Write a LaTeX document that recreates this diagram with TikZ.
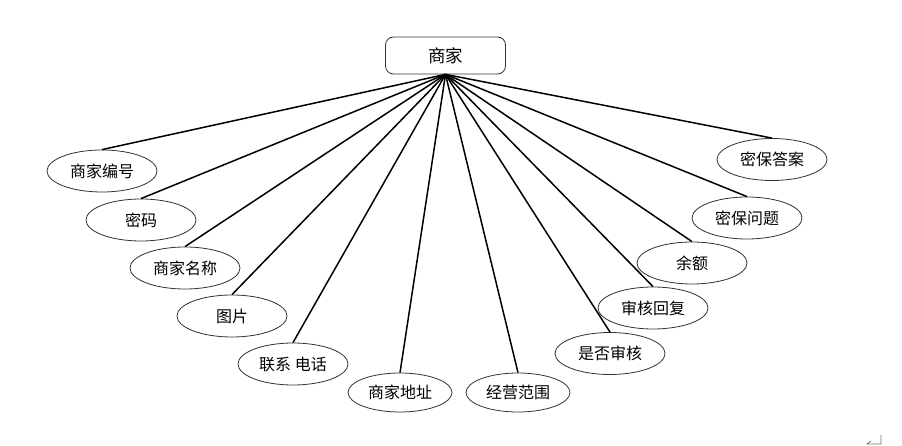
\documentclass[tikz,border=0pt]{standalone}
\usepackage{fontspec}
\usetikzlibrary{shapes.geometric}
\newfontfamily\cjk{Noto Sans CJK SC}
\begin{document}
\begin{tikzpicture}[x=1pt,y=-1pt,
  attr/.style={draw=black!80, line width=0.8pt, ellipse, minimum width=110pt, minimum height=42pt, inner sep=0pt, font=\cjk\fontsize{16}{19}\selectfont},
  attrs/.style={attr, minimum width=104pt, minimum height=39pt},
  entity/.style={draw=black!80, line width=0.8pt, rounded corners=8pt, minimum width=120pt, minimum height=37pt, inner sep=0pt, font=\cjk\fontsize{17.5}{20}\selectfont},
  link/.style={line width=1.5pt, black}]
\useasboundingbox (0,0) rectangle (902,446);
\node[entity] (top) at (445.5,55.5) {商家};
\node[attr] (a1) at (102,171) {商家编号};
\node[attr] (a2) at (141,220) {密码};
\node[attr] (a3) at (185,268) {商家名称};
\node[attr] (a4) at (232,316) {图片};
\node[attr] (a5) at (293,364) {联系 电话};
\node[attrs] (a6) at (400,392.5) {商家地址};
\node[attrs] (a7) at (518,392.5) {经营范围};
\node[attr] (a8) at (610,353.5) {是否审核};
\node[attr] (a9) at (653,308) {审核回复};
\node[attr] (a10) at (692,263) {余额};
\node[attr] (a11) at (747,218) {密保问题};
\node[attr] (a12) at (772,159.5) {密保答案};
\foreach \n in {a1,a2,a3,a4,a5,a6,a7,a8,a9,a10,a11,a12}
  \draw[link] (top.south) -- (\n.north);
\coordinate (r1) at (881,435);
\coordinate (r2) at (881,444);
\coordinate (r3) at (867,444);
\draw[black!55, line width=0.8pt] (r1) -- (r2) -- (r3) -- ++(4,-3);
\end{tikzpicture}
\end{document}
